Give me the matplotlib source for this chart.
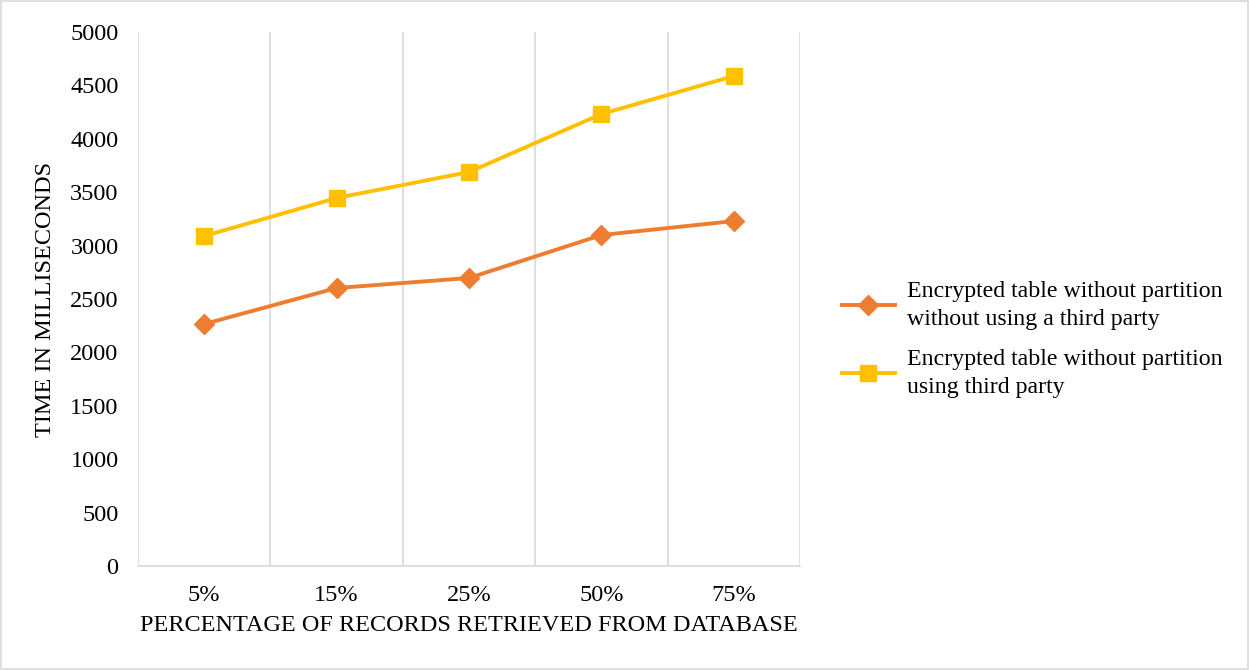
import matplotlib.pyplot as plt
import numpy as np

plt.rcParams['font.family'] = ['Liberation Serif', 'DejaVu Serif']

categories = ['5%', '15%', '25%', '50%', '75%']
no_third_party = [2266, 2603, 2697, 3099, 3230]
with_third_party = [3090, 3446, 3689, 4232, 4588]
labels = ['Encrypted table without partition\nwithout using a third party',
          'Encrypted table without partition\nusing third party']

fig = plt.figure(figsize=(12.49, 6.7), dpi=100)
ax = fig.add_axes([0.1105, 0.1552, 0.53, 0.797])

x = np.arange(len(categories))
ax.plot(x, no_third_party, color='#ED7D31', lw=2.8, marker='D', ms=10,
        label=labels[0], zorder=3)
ax.plot(x, with_third_party, color='#FFC000', lw=2.8, marker='s', ms=11,
        label=labels[1], zorder=3)

ax.set_xlim(-0.5, len(categories) - 0.5)
ax.set_ylim(0, 5000)
ax.set_yticks(range(0, 5001, 500))
ax.set_xticks(x)
ax.set_xticklabels(categories)
ax.set_xticks(np.arange(-0.5, len(categories)), minor=True)
ax.grid(True, axis='x', which='minor', color='#d9d9d9', lw=1.2)
ax.tick_params(which='both', length=0, labelsize=17.5)
ax.tick_params(axis='y', pad=14)
ax.tick_params(axis='x', pad=14)
for s in ['top', 'right', 'left']:
    ax.spines[s].set_visible(False)
ax.spines['bottom'].set_color('#d9d9d9')
ax.spines['bottom'].set_linewidth(1.2)

ax.set_xlabel('PERCENTAGE OF RECORDS RETRIEVED FROM DATABASE', fontsize=17.5, labelpad=6)
ax.set_ylabel('TIME IN MILLISECONDS', fontsize=17.5, labelpad=10)

leg = fig.legend(loc='center left', bbox_to_anchor=(0.657, 0.493), frameon=False,
                 fontsize=17.2, handlelength=2.2, labelspacing=0.8, handletextpad=0.5)
for t in leg.get_texts():
    t.set_linespacing(1.45)

border = plt.Rectangle((0.001, 0.001), 0.998, 0.997, transform=fig.transFigure,
                       fill=False, edgecolor='#d9d9d9', lw=1.2)
fig.patches.append(border)

fig.savefig('out.png', dpi=100)
